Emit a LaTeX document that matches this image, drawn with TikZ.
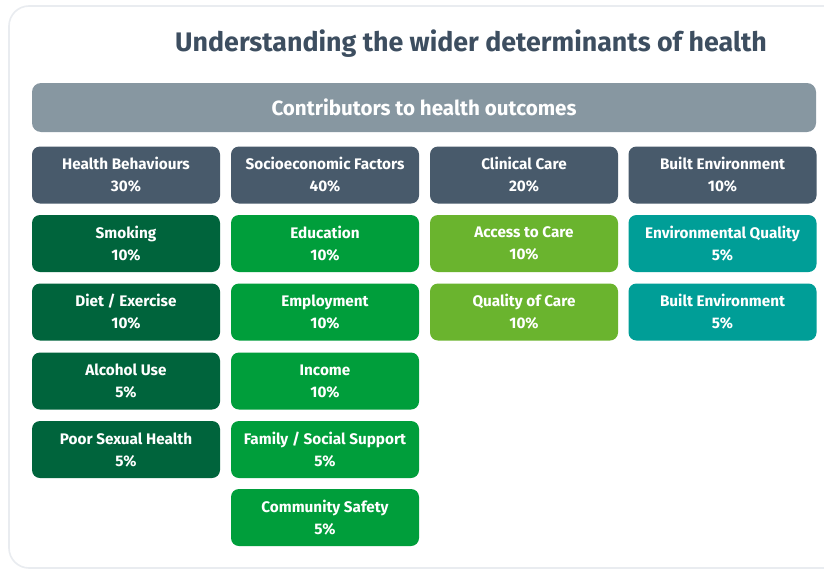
\documentclass[tikz,border=0pt]{standalone}
\usepackage{fontspec}
\setmainfont{Fira Sans}
\definecolor{titlec}{HTML}{3D4E60}
\definecolor{bannerc}{HTML}{8797A1}
\definecolor{headc}{HTML}{485A6B}
\definecolor{dkgreen}{HTML}{00643C}
\definecolor{midgreen}{HTML}{009E3B}
\definecolor{ltgreen}{HTML}{6AB42E}
\definecolor{tealc}{HTML}{009E97}
\definecolor{cardc}{HTML}{E9ECF0}
\tikzset{
  card/.style={draw=cardc, line width=1.6pt, rounded corners=20pt},
  tile/.style={rounded corners=8pt, minimum width=188pt, minimum height=57pt,
    inner sep=0pt, align=center, text=white, font=\bfseries\fontsize{15.3}{22}\selectfont},
  head/.style={tile, fill=headc},
  hb/.style={tile, fill=dkgreen},
  se/.style={tile, fill=midgreen},
  cc/.style={tile, fill=ltgreen},
  be/.style={tile, fill=tealc},
}
\begin{document}
\begin{tikzpicture}[x=1pt,y=-1pt]
\useasboundingbox (0,0) rectangle (824,570);
\fill[white] (0,0) rectangle (824,570);
\draw[card] (9,6) rectangle (880,568);
\node[font=\bfseries\fontsize{26.8}{30}\selectfont, text=titlec] (title) at (471,44) {Understanding the wider determinants of health};
\node[fill=bannerc, rounded corners=9pt, minimum width=784pt, minimum height=49pt, text=white,
  font=\bfseries\fontsize{20.6}{24}\selectfont] (banner) at (424,107.5) {Contributors to health outcomes};
% headers
\node[head] (h1) at (126,175) {Health Behaviours\\30\%};
\node[head] (h2) at (325,175) {Socioeconomic Factors\\40\%};
\node[head] (h3) at (524,175) {Clinical Care\\20\%};
\node[head] (h4) at (722.5,175) {Built Environment\\10\%};
% column 1
\node[hb] (a1) at (126,243.5) {Smoking\\10\%};
\node[hb] (a2) at (126,312) {Diet / Exercise\\10\%};
\node[hb] (a3) at (126,381) {Alcohol Use\\5\%};
\node[hb] (a4) at (126,449.5) {Poor Sexual Health\\5\%};
% column 2
\node[se] (b1) at (325,243.5) {Education\\10\%};
\node[se] (b2) at (325,312) {Employment\\10\%};
\node[se] (b3) at (325,381) {Income\\10\%};
\node[se] (b4) at (325,449.5) {Family / Social Support\\5\%};
\node[se] (b5) at (325,517.5) {Community Safety\\5\%};
% column 3
\node[cc] (c1) at (524,243.5) {Access to Care\\10\%};
\node[cc] (c2) at (524,312) {Quality of Care\\10\%};
% column 4
\node[be] (d1) at (722.5,243.5) {Environmental Quality\\5\%};
\node[be] (d2) at (722.5,312) {Built Environment\\5\%};
\end{tikzpicture}
\end{document}
